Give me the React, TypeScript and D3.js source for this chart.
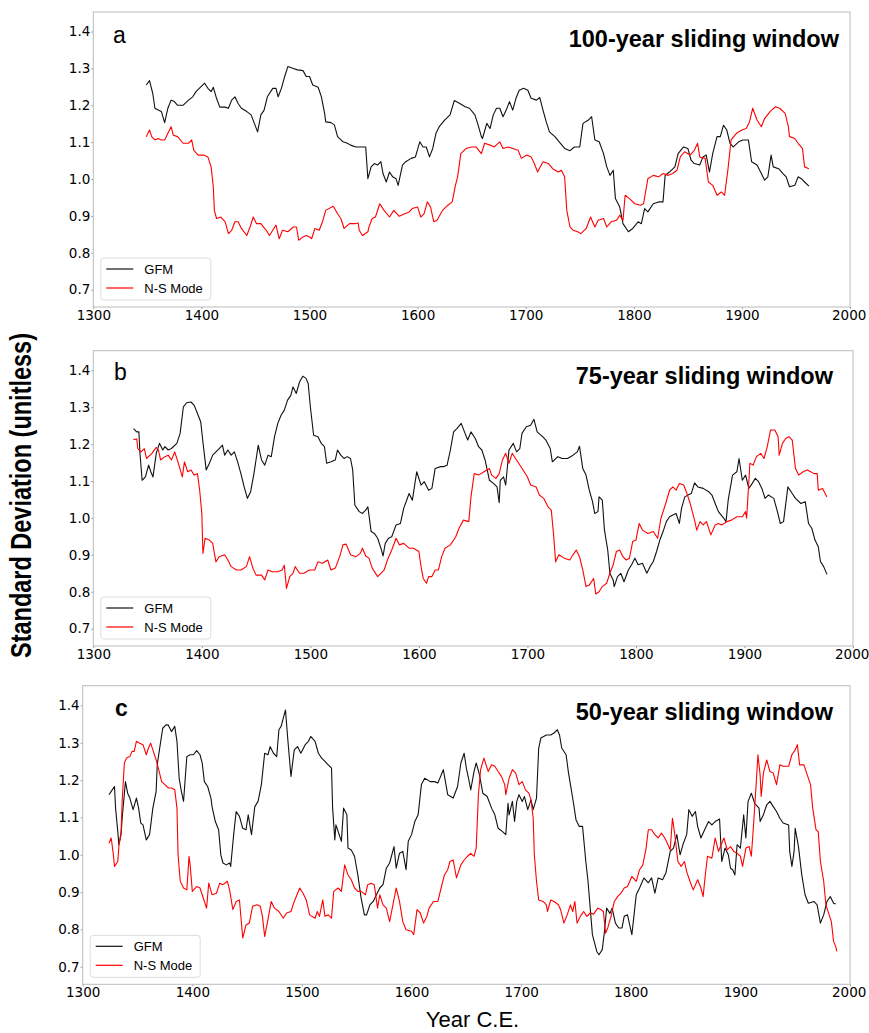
import React, { useEffect, useRef } from 'react';
import * as d3 from 'd3';

// [year, standard deviation]
const gfm100: [number, number][] = [[1349,1.255],[1352,1.267],[1355,1.232],[1357,1.192],[1360,1.187],[1363,1.183],[1366,1.153],[1369,1.192],[1372,1.214],[1375,1.21],[1378,1.2],[1383,1.2],[1388,1.214],[1392,1.223],[1395,1.237],[1398,1.246],[1403,1.26],[1406,1.246],[1409,1.237],[1411,1.249],[1414,1.219],[1417,1.195],[1422,1.195],[1425,1.192],[1428,1.214],[1431,1.223],[1434,1.205],[1437,1.192],[1442,1.183],[1446,1.174],[1449,1.151],[1452,1.128],[1455,1.174],[1458,1.187],[1461,1.223],[1466,1.246],[1469,1.246],[1471,1.223],[1474,1.246],[1477,1.278],[1480,1.305],[1485,1.3],[1489,1.296],[1494,1.294],[1497,1.278],[1500,1.278],[1503,1.255],[1508,1.249],[1511,1.223],[1514,1.178],[1515,1.155],[1520,1.153],[1523,1.147],[1526,1.115],[1531,1.101],[1535,1.097],[1538,1.092],[1543,1.087],[1549,1.087],[1552,1.087],[1554,1.001],[1557,1.033],[1560,1.042],[1563,1.038],[1566,1.047],[1568,1.015],[1571,0.992],[1574,1.019],[1577,1.006],[1580,1.001],[1582,0.983],[1586,1.038],[1589,1.047],[1594,1.056],[1598,1.06],[1602,1.101],[1605,1.087],[1608,1.087],[1611,1.06],[1614,1.083],[1617,1.124],[1620,1.142],[1625,1.16],[1630,1.174],[1634,1.213],[1639,1.205],[1644,1.196],[1648,1.192],[1653,1.174],[1656,1.146],[1659,1.115],[1660,1.11],[1664,1.151],[1667,1.137],[1670,1.174],[1673,1.192],[1676,1.192],[1679,1.169],[1682,1.187],[1685,1.21],[1688,1.187],[1691,1.219],[1694,1.241],[1698,1.246],[1702,1.241],[1705,1.219],[1710,1.214],[1713,1.221],[1716,1.187],[1719,1.155],[1722,1.128],[1727,1.115],[1731,1.101],[1736,1.083],[1741,1.077],[1745,1.087],[1750,1.087],[1753,1.151],[1758,1.16],[1761,1.169],[1764,1.106],[1768,1.101],[1772,1.069],[1775,1.033],[1778,1.01],[1781,1.024],[1783,0.947],[1787,0.924],[1790,0.879],[1795,0.857],[1799,0.866],[1804,0.884],[1807,0.879],[1810,0.92],[1813,0.911],[1818,0.933],[1823,0.938],[1827,0.938],[1829,1.01],[1833,1.019],[1838,1.033],[1841,1.069],[1846,1.087],[1850,1.083],[1853,1.051],[1856,1.042],[1861,1.038],[1864,1.06],[1867,1.065],[1870,1.019],[1873,1.069],[1877,1.115],[1880,1.115],[1883,1.146],[1886,1.133],[1889,1.097],[1892,1.087],[1897,1.101],[1901,1.106],[1906,1.106],[1909,1.047],[1914,1.038],[1918,1.015],[1921,0.997],[1924,1.006],[1927,1.065],[1929,1.033],[1934,1.028],[1938,1.015],[1941,1.006],[1944,0.979],[1949,0.983],[1952,1.006],[1955,1.001],[1958,0.992],[1962,0.981]];

const ns100: [number, number][] = [[1349,1.115],[1352,1.133],[1354,1.115],[1357,1.106],[1360,1.11],[1363,1.106],[1366,1.106],[1369,1.124],[1372,1.142],[1374,1.119],[1378,1.115],[1383,1.097],[1388,1.097],[1391,1.106],[1393,1.078],[1397,1.065],[1402,1.065],[1406,1.06],[1409,1.033],[1411,0.979],[1412,0.915],[1414,0.893],[1418,0.897],[1422,0.884],[1425,0.852],[1428,0.861],[1431,0.884],[1434,0.884],[1437,0.866],[1442,0.847],[1445,0.87],[1448,0.897],[1451,0.879],[1455,0.879],[1460,0.861],[1463,0.847],[1466,0.861],[1469,0.875],[1472,0.838],[1475,0.861],[1480,0.857],[1485,0.87],[1488,0.87],[1490,0.834],[1494,0.843],[1497,0.847],[1500,0.843],[1502,0.838],[1505,0.866],[1509,0.861],[1512,0.884],[1515,0.915],[1522,0.926],[1526,0.906],[1529,0.893],[1532,0.866],[1537,0.879],[1542,0.879],[1545,0.881],[1546,0.861],[1549,0.847],[1554,0.857],[1555,0.87],[1558,0.893],[1561,0.897],[1565,0.933],[1569,0.915],[1574,0.897],[1578,0.915],[1583,0.899],[1588,0.906],[1592,0.91],[1595,0.92],[1600,0.924],[1603,0.897],[1606,0.906],[1609,0.938],[1612,0.924],[1615,0.884],[1618,0.888],[1623,0.915],[1628,0.929],[1632,0.938],[1635,0.983],[1637,1.006],[1640,1.069],[1645,1.083],[1650,1.087],[1654,1.087],[1659,1.069],[1662,1.097],[1667,1.092],[1671,1.087],[1676,1.101],[1679,1.083],[1684,1.087],[1688,1.083],[1693,1.078],[1696,1.056],[1701,1.065],[1705,1.06],[1708,1.042],[1711,1.019],[1716,1.047],[1721,1.042],[1725,1.028],[1730,1.019],[1733,1.024],[1736,1.006],[1738,0.915],[1741,0.87],[1744,0.861],[1748,0.857],[1751,0.852],[1756,0.866],[1760,0.897],[1764,0.87],[1767,0.888],[1772,0.893],[1775,0.87],[1779,0.884],[1784,0.888],[1787,0.902],[1790,0.888],[1792,0.956],[1796,0.947],[1801,0.933],[1806,0.929],[1809,0.933],[1813,1.001],[1818,1.01],[1823,1.006],[1827,1.015],[1832,1.01],[1836,1.015],[1840,1.024],[1843,1.06],[1847,1.074],[1852,1.065],[1856,1.078],[1859,1.097],[1861,1.06],[1866,1.056],[1869,0.992],[1873,0.983],[1877,0.956],[1881,0.965],[1884,0.956],[1887,1.024],[1890,1.106],[1895,1.124],[1900,1.133],[1904,1.137],[1907,1.155],[1910,1.192],[1914,1.16],[1918,1.142],[1921,1.164],[1926,1.183],[1931,1.196],[1935,1.192],[1940,1.178],[1943,1.142],[1944,1.115],[1949,1.11],[1952,1.097],[1956,1.083],[1958,1.033],[1962,1.028]];

const gfm75: [number, number][] = [[1337,1.242],[1340,1.233],[1342,1.233],[1343,1.175],[1345,1.102],[1348,1.111],[1351,1.143],[1353,1.125],[1355,1.111],[1358,1.175],[1361,1.202],[1364,1.184],[1366,1.193],[1369,1.184],[1372,1.188],[1377,1.202],[1380,1.229],[1383,1.301],[1386,1.312],[1390,1.314],[1393,1.305],[1396,1.283],[1399,1.26],[1401,1.206],[1404,1.13],[1407,1.148],[1410,1.17],[1413,1.179],[1416,1.188],[1419,1.197],[1421,1.17],[1424,1.184],[1427,1.17],[1430,1.179],[1433,1.152],[1436,1.12],[1439,1.084],[1442,1.053],[1445,1.071],[1448,1.12],[1452,1.197],[1455,1.157],[1458,1.143],[1461,1.17],[1464,1.166],[1467,1.22],[1470,1.256],[1473,1.278],[1476,1.292],[1479,1.319],[1482,1.332],[1484,1.355],[1487,1.337],[1490,1.368],[1493,1.384],[1496,1.378],[1498,1.364],[1500,1.301],[1503,1.224],[1507,1.22],[1510,1.202],[1513,1.193],[1515,1.148],[1519,1.152],[1523,1.157],[1525,1.184],[1528,1.17],[1531,1.161],[1534,1.166],[1537,1.161],[1539,1.13],[1541,1.035],[1545,1.017],[1548,1.012],[1551,1.021],[1553,1.03],[1556,0.963],[1559,0.958],[1562,0.945],[1565,0.918],[1567,0.897],[1569,0.931],[1572,0.945],[1575,0.949],[1579,0.981],[1583,0.985],[1586,1.026],[1591,1.066],[1594,1.048],[1598,1.125],[1602,1.089],[1605,1.098],[1609,1.075],[1612,1.08],[1615,1.134],[1620,1.139],[1623,1.139],[1626,1.143],[1629,1.184],[1632,1.233],[1635,1.242],[1639,1.256],[1642,1.233],[1645,1.211],[1648,1.233],[1652,1.215],[1655,1.193],[1658,1.184],[1661,1.157],[1665,1.102],[1669,1.093],[1672,1.084],[1674,1.041],[1675,1.102],[1678,1.111],[1680,1.089],[1683,1.184],[1687,1.202],[1690,1.179],[1693,1.188],[1695,1.229],[1699,1.247],[1703,1.251],[1706,1.267],[1709,1.233],[1714,1.22],[1717,1.211],[1721,1.188],[1723,1.152],[1728,1.166],[1732,1.161],[1737,1.161],[1742,1.17],[1746,1.179],[1748,1.194],[1751,1.134],[1754,1.116],[1757,1.075],[1760,1.044],[1762,1.012],[1765,1.017],[1766,1.057],[1769,1.048],[1771,0.967],[1774,0.913],[1776,0.85],[1779,0.832],[1780,0.814],[1783,0.841],[1786,0.85],[1789,0.827],[1793,0.859],[1796,0.873],[1799,0.891],[1802,0.873],[1806,0.877],[1810,0.85],[1813,0.868],[1816,0.882],[1819,0.909],[1822,0.94],[1825,0.963],[1828,0.99],[1831,1.003],[1834,1.008],[1837,1.012],[1840,0.985],[1842,1.026],[1845,1.057],[1848,1.062],[1851,1.066],[1854,1.095],[1857,1.084],[1862,1.08],[1867,1.071],[1870,1.062],[1873,1.039],[1876,1.017],[1881,0.999],[1883,0.99],[1885,1.048],[1889,1.116],[1893,1.125],[1895,1.161],[1898,1.102],[1901,1.116],[1904,1.08],[1907,1.093],[1910,1.107],[1913,1.098],[1916,1.08],[1919,1.053],[1922,1.062],[1927,1.053],[1930,1.021],[1933,0.985],[1936,0.99],[1940,1.084],[1944,1.066],[1947,1.053],[1952,1.039],[1956,1.044],[1959,0.985],[1962,0.972],[1965,0.94],[1968,0.922],[1970,0.882],[1973,0.868],[1976,0.847]];

const ns75: [number, number][] = [[1337,1.212],[1340,1.214],[1341,1.188],[1344,1.179],[1347,1.188],[1349,1.161],[1354,1.175],[1358,1.191],[1360,1.184],[1362,1.157],[1366,1.166],[1369,1.17],[1372,1.157],[1375,1.179],[1378,1.152],[1382,1.111],[1384,1.152],[1387,1.125],[1390,1.13],[1393,1.116],[1396,1.12],[1398,1.075],[1400,1.012],[1401,0.904],[1403,0.945],[1407,0.94],[1410,0.931],[1413,0.881],[1416,0.895],[1421,0.9],[1424,0.886],[1427,0.868],[1432,0.859],[1436,0.859],[1441,0.868],[1444,0.895],[1447,0.864],[1450,0.845],[1455,0.845],[1458,0.832],[1461,0.859],[1465,0.854],[1470,0.854],[1474,0.859],[1476,0.872],[1478,0.809],[1481,0.841],[1484,0.85],[1486,0.868],[1490,0.85],[1494,0.85],[1499,0.859],[1504,0.859],[1507,0.881],[1511,0.877],[1516,0.886],[1519,0.859],[1523,0.864],[1527,0.895],[1530,0.927],[1533,0.929],[1537,0.9],[1542,0.895],[1546,0.904],[1548,0.918],[1551,0.897],[1554,0.891],[1557,0.864],[1562,0.841],[1565,0.85],[1568,0.859],[1571,0.886],[1575,0.913],[1579,0.945],[1582,0.927],[1586,0.931],[1591,0.918],[1595,0.918],[1600,0.909],[1602,0.868],[1604,0.836],[1607,0.823],[1609,0.841],[1612,0.841],[1615,0.859],[1618,0.859],[1621,0.895],[1624,0.918],[1629,0.927],[1634,0.949],[1637,0.972],[1641,0.994],[1646,0.99],[1648,1.057],[1651,1.12],[1655,1.116],[1660,1.125],[1665,1.134],[1667,1.116],[1671,1.107],[1674,1.12],[1677,1.157],[1680,1.175],[1683,1.148],[1686,1.175],[1689,1.161],[1692,1.148],[1697,1.125],[1700,1.111],[1703,1.089],[1708,1.084],[1711,1.062],[1715,1.053],[1719,1.03],[1722,1.021],[1724,0.958],[1726,0.881],[1729,0.9],[1734,0.891],[1739,0.886],[1742,0.9],[1745,0.913],[1748,0.895],[1751,0.859],[1754,0.814],[1757,0.818],[1761,0.836],[1763,0.794],[1766,0.8],[1769,0.814],[1773,0.823],[1776,0.85],[1779,0.873],[1782,0.909],[1785,0.913],[1788,0.895],[1791,0.886],[1794,0.891],[1797,0.936],[1800,0.94],[1803,0.985],[1806,0.967],[1811,0.958],[1816,0.963],[1820,0.945],[1823,0.999],[1827,1.035],[1831,1.075],[1834,1.084],[1837,1.075],[1840,1.093],[1844,1.089],[1847,1.066],[1850,1.039],[1854,0.994],[1856,0.967],[1859,0.99],[1862,0.981],[1865,0.99],[1869,0.954],[1873,0.981],[1876,0.985],[1879,0.981],[1884,0.99],[1888,0.994],[1893,1.003],[1898,1.003],[1901,1.017],[1902,0.999],[1905,1.148],[1908,1.143],[1911,1.166],[1915,1.175],[1918,1.161],[1921,1.193],[1924,1.238],[1928,1.238],[1931,1.22],[1932,1.17],[1935,1.202],[1938,1.215],[1941,1.22],[1944,1.211],[1947,1.134],[1950,1.116],[1954,1.125],[1958,1.13],[1961,1.125],[1964,1.12],[1967,1.12],[1968,1.075],[1972,1.08],[1975,1.062],[1976,1.057]];

const gfm50: [number, number][] = [[1324,1.161],[1326,1.17],[1329,1.183],[1330,1.125],[1332,1.062],[1333,1.027],[1335,1.054],[1336,1.098],[1339,1.196],[1341,1.165],[1343,1.152],[1346,1.121],[1349,1.152],[1351,1.125],[1353,1.085],[1355,1.08],[1358,1.04],[1361,1.054],[1364,1.125],[1367,1.17],[1368,1.241],[1370,1.281],[1373,1.339],[1376,1.348],[1378,1.348],[1381,1.33],[1384,1.344],[1386,1.304],[1388,1.205],[1390,1.17],[1392,1.143],[1395,1.263],[1398,1.268],[1401,1.268],[1404,1.279],[1407,1.268],[1409,1.246],[1411,1.196],[1414,1.183],[1417,1.152],[1418,1.129],[1421,1.089],[1424,1.067],[1426,1.0],[1428,0.978],[1431,0.973],[1434,0.978],[1435,0.969],[1438,1.062],[1440,1.116],[1443,1.103],[1446,1.071],[1449,1.067],[1451,1.107],[1454,1.054],[1457,1.129],[1460,1.143],[1463,1.188],[1466,1.272],[1469,1.268],[1471,1.29],[1474,1.272],[1477,1.263],[1479,1.335],[1481,1.344],[1483,1.366],[1485,1.388],[1487,1.313],[1490,1.21],[1493,1.281],[1496,1.29],[1499,1.272],[1503,1.295],[1506,1.304],[1508,1.317],[1512,1.304],[1515,1.272],[1518,1.259],[1521,1.25],[1524,1.241],[1527,1.232],[1528,1.125],[1530,1.04],[1531,1.08],[1534,1.054],[1536,1.036],[1538,1.125],[1541,1.107],[1542,1.018],[1545,1.013],[1548,0.996],[1551,0.946],[1554,0.884],[1557,0.839],[1559,0.839],[1562,0.866],[1565,0.875],[1568,0.893],[1571,0.911],[1574,0.92],[1577,0.964],[1580,0.978],[1584,1.022],[1586,0.964],[1589,1.004],[1592,1.009],[1595,0.96],[1597,1.036],[1600,1.054],[1603,1.089],[1606,1.107],[1609,1.188],[1612,1.205],[1617,1.196],[1621,1.196],[1624,1.192],[1629,1.228],[1633,1.161],[1638,1.152],[1642,1.183],[1645,1.246],[1648,1.272],[1650,1.232],[1652,1.205],[1654,1.174],[1657,1.223],[1659,1.246],[1662,1.214],[1665,1.165],[1669,1.156],[1673,1.125],[1676,1.107],[1679,1.071],[1683,1.062],[1686,1.054],[1688,1.138],[1689,1.107],[1692,1.143],[1694,1.089],[1696,1.143],[1698,1.161],[1701,1.143],[1703,1.156],[1706,1.121],[1709,1.147],[1711,1.121],[1714,1.152],[1716,1.286],[1718,1.313],[1723,1.321],[1727,1.321],[1730,1.326],[1733,1.335],[1735,1.321],[1737,1.286],[1741,1.268],[1743,1.223],[1746,1.17],[1748,1.134],[1750,1.094],[1753,1.076],[1756,1.076],[1759,0.982],[1761,0.929],[1763,0.857],[1765,0.786],[1769,0.741],[1771,0.732],[1774,0.746],[1776,0.795],[1778,0.857],[1781,0.843],[1783,0.857],[1786,0.817],[1789,0.804],[1792,0.804],[1794,0.835],[1797,0.839],[1801,0.786],[1803,0.839],[1805,0.893],[1808,0.911],[1812,0.938],[1816,0.925],[1819,0.938],[1822,0.897],[1825,0.938],[1829,0.933],[1832,0.951],[1836,1.009],[1839,1.018],[1842,1.054],[1845,1.0],[1848,1.031],[1851,1.054],[1853,1.121],[1856,1.103],[1859,1.116],[1861,1.076],[1864,1.045],[1868,1.071],[1871,1.089],[1874,1.08],[1877,1.089],[1881,1.096],[1883,0.982],[1886,1.018],[1889,1.0],[1891,0.964],[1893,0.96],[1895,0.946],[1897,1.027],[1900,1.018],[1903,1.107],[1905,1.045],[1907,1.143],[1910,1.165],[1913,1.138],[1917,1.125],[1918,1.089],[1921,1.107],[1924,1.134],[1927,1.143],[1930,1.129],[1933,1.116],[1936,1.098],[1939,1.085],[1944,1.08],[1945,1.009],[1947,0.969],[1949,1.009],[1950,1.071],[1953,1.022],[1956,0.946],[1959,0.893],[1962,0.87],[1967,0.875],[1970,0.866],[1973,0.817],[1976,0.839],[1979,0.875],[1982,0.888],[1985,0.87],[1987,0.868]];

const ns50: [number, number][] = [[1324,1.031],[1326,1.045],[1328,1.0],[1329,0.969],[1332,0.982],[1333,1.022],[1335,1.062],[1336,1.143],[1338,1.246],[1340,1.259],[1343,1.263],[1345,1.277],[1347,1.277],[1349,1.304],[1352,1.299],[1355,1.295],[1358,1.268],[1360,1.286],[1362,1.299],[1364,1.281],[1367,1.254],[1369,1.232],[1372,1.196],[1375,1.188],[1378,1.179],[1381,1.179],[1384,1.174],[1386,1.125],[1387,1.0],[1389,0.929],[1392,0.911],[1395,0.906],[1397,0.996],[1398,0.973],[1400,0.902],[1404,0.915],[1407,0.911],[1409,0.893],[1413,0.857],[1415,0.924],[1418,0.893],[1422,0.897],[1425,0.924],[1428,0.92],[1432,0.929],[1434,0.906],[1437,0.853],[1440,0.875],[1443,0.879],[1446,0.777],[1449,0.812],[1452,0.817],[1455,0.862],[1459,0.866],[1462,0.862],[1464,0.835],[1466,0.781],[1469,0.826],[1472,0.875],[1475,0.857],[1479,0.848],[1483,0.83],[1486,0.844],[1490,0.848],[1493,0.875],[1498,0.911],[1501,0.897],[1504,0.879],[1507,0.839],[1512,0.83],[1514,0.848],[1516,0.835],[1519,0.879],[1521,0.835],[1524,0.839],[1527,0.83],[1529,0.902],[1533,0.911],[1536,0.902],[1539,0.973],[1542,0.946],[1545,0.933],[1548,0.911],[1551,0.902],[1554,0.902],[1558,0.893],[1560,0.92],[1563,0.924],[1566,0.92],[1569,0.857],[1571,0.893],[1574,0.866],[1577,0.857],[1580,0.821],[1583,0.866],[1586,0.911],[1589,0.875],[1592,0.821],[1595,0.799],[1600,0.795],[1602,0.786],[1605,0.853],[1608,0.844],[1611,0.817],[1614,0.835],[1616,0.857],[1620,0.875],[1624,0.875],[1627,0.911],[1630,0.946],[1633,0.96],[1635,0.982],[1638,0.986],[1641,0.938],[1645,0.973],[1648,0.986],[1651,0.996],[1654,1.004],[1657,0.996],[1659,1.018],[1661,1.161],[1663,1.228],[1666,1.259],[1670,1.223],[1673,1.241],[1676,1.237],[1679,1.223],[1682,1.21],[1685,1.188],[1686,1.161],[1689,1.205],[1692,1.228],[1695,1.219],[1698,1.188],[1701,1.196],[1704,1.174],[1707,1.165],[1709,1.147],[1711,1.098],[1712,1.0],[1714,0.929],[1716,0.879],[1720,0.875],[1723,0.866],[1724,0.848],[1727,0.879],[1730,0.875],[1734,0.866],[1736,0.853],[1739,0.817],[1742,0.839],[1745,0.866],[1747,0.848],[1749,0.875],[1751,0.817],[1754,0.835],[1757,0.848],[1760,0.835],[1763,0.844],[1766,0.841],[1770,0.857],[1773,0.853],[1775,0.848],[1777,0.79],[1779,0.804],[1782,0.835],[1785,0.875],[1788,0.888],[1791,0.897],[1794,0.911],[1797,0.915],[1801,0.942],[1805,0.929],[1808,0.96],[1811,0.973],[1814,1.018],[1816,1.067],[1819,1.067],[1822,1.054],[1825,1.045],[1828,1.058],[1831,1.045],[1834,1.027],[1836,1.013],[1838,1.098],[1840,1.058],[1843,0.982],[1846,0.969],[1849,0.982],[1851,0.955],[1854,0.929],[1857,0.906],[1861,0.933],[1864,0.911],[1866,0.888],[1868,0.946],[1870,0.996],[1874,0.991],[1877,1.045],[1880,1.009],[1883,1.031],[1885,1.045],[1888,1.013],[1891,1.022],[1894,1.009],[1897,1.004],[1900,0.996],[1902,0.969],[1905,1.018],[1908,1.022],[1910,0.996],[1912,1.08],[1914,1.17],[1916,1.268],[1918,1.214],[1919,1.156],[1921,1.219],[1924,1.254],[1927,1.223],[1930,1.219],[1933,1.188],[1936,1.241],[1939,1.237],[1944,1.237],[1947,1.268],[1950,1.281],[1952,1.295],[1954,1.241],[1958,1.241],[1961,1.214],[1964,1.188],[1966,1.125],[1969,1.067],[1971,1.062],[1973,0.982],[1976,0.929],[1978,0.866],[1981,0.839],[1983,0.821],[1985,0.768],[1987,0.754],[1988,0.741]];

const xTicks = [1300, 1400, 1500, 1600, 1700, 1800, 1900, 2000];
const yTicks = [0.7, 0.8, 0.9, 1.0, 1.1, 1.2, 1.3, 1.4];
const seriesNames = ['GFM', 'N-S Mode'];
const seriesColors = ['#111', '#ff0000'];

const WIDTH = 869;
const HEIGHT = 1033;
const SANS = '"Liberation Sans", Arial, sans-serif';

const panels = [
    { letter: 'a', title: '100-year sliding window', gfm: gfm100, ns: ns100,
      left: 93.3, right: 850, top: 12, bottom: 307, titleX: 839, titleY: 46.5, letterY: 42.5, letterX: 113 },
    { letter: 'b', title: '75-year sliding window', gfm: gfm75, ns: ns75,
      left: 93.3, right: 853, top: 350.7, bottom: 646, titleX: 833, titleY: 383.5, letterY: 380, letterX: 114 },
    { letter: 'c', title: '50-year sliding window', gfm: gfm50, ns: ns50,
      left: 82.7, right: 850, top: 685.7, bottom: 984.3, titleX: 833, titleY: 719.5, letterY: 716, letterX: 115 },
];

const App = () => {
    const svgRef = useRef<SVGSVGElement>(null);

    useEffect(() => {
        const svg = d3.select(svgRef.current);
        svg.selectAll('*').remove();

        panels.forEach((p) => {
            const x = d3.scaleLinear().domain([1300, 2000]).range([p.left, p.right]);
            const y = d3.scaleLinear().domain([0.653, 1.453]).range([p.bottom, p.top]);
            const g = svg.append('g');

            const line = d3.line<[number, number]>()
                .x(d => x(d[0]))
                .y(d => y(d[1]));

            // axes
            const xAxis = g.append('g')
                .attr('transform', `translate(0,${p.bottom})`)
                .call(d3.axisBottom(x).tickValues(xTicks).tickFormat(d3.format('d')).tickSize(2).tickPadding(1.5));
            const yAxis = g.append('g')
                .attr('transform', `translate(${p.left},0)`)
                .call(d3.axisLeft(y).tickValues(yTicks).tickFormat(d3.format('.1f')).tickSize(2).tickPadding(1));
            [xAxis, yAxis].forEach(ax => {
                ax.select('.domain').remove();
                ax.selectAll('line').attr('stroke', '#999');
                ax.selectAll('text')
                    .attr('fill', '#000')
                    .style('font-family', '"DejaVu Sans", sans-serif')
                    .style('font-size', '13.5px');
            });
            // the last x label sits against the page edge, as in the source
            xAxis.selectAll('text').filter((d: any) => d === 2000).attr('dx', '-0.1em');

            g.append('rect')
                .attr('x', p.left).attr('y', p.top)
                .attr('width', p.right - p.left).attr('height', p.bottom - p.top)
                .attr('fill', 'none').attr('stroke', '#bbb').attr('stroke-width', 1);

            [p.gfm, p.ns].forEach((data, i) => {
                g.append('path')
                    .datum(data)
                    .attr('fill', 'none')
                    .attr('stroke', seriesColors[i])
                    .attr('stroke-width', 1.1)
                    .attr('stroke-linejoin', 'round')
                    .attr('d', line);
            });

            // legend
            const lg = g.append('g').attr('transform', `translate(${p.left},${p.bottom})`);
            lg.append('rect')
                .attr('x', 7.5).attr('y', -49).attr('width', 110).attr('height', 42)
                .attr('rx', 3).attr('fill', 'white').attr('stroke', '#ddd');
            seriesNames.forEach((name, i) => {
                const ly = -38 + i * 19;
                lg.append('line')
                    .attr('x1', 13).attr('x2', 40).attr('y1', ly).attr('y2', ly)
                    .attr('stroke', seriesColors[i]).attr('stroke-width', 1.2);
                lg.append('text')
                    .attr('x', 51).attr('y', ly + 4.5)
                    .style('font-family', SANS).style('font-size', '13px')
                    .text(name);
            });

            g.append('text')
                .attr('x', p.titleX).attr('y', p.titleY)
                .attr('text-anchor', 'end')
                .style('font-family', SANS).style('font-size', '23.5px').style('font-weight', 'bold')
                .text(p.title);

            g.append('text')
                .attr('x', p.letterX).attr('y', p.letterY)
                .style('font-family', SANS).style('font-size', '23px')
                .style('font-weight', p.letter === 'c' ? 'bold' : 'normal')
                .text(p.letter);
        });

        svg.append('text')
            .attr('transform', 'translate(30.5,495.5) rotate(-90)')
            .attr('text-anchor', 'middle')
            .attr('textLength', 325)
            .attr('lengthAdjust', 'spacingAndGlyphs')
            .style('font-family', SANS).style('font-size', '29px').style('font-weight', 'bold')
            .text('Standard Deviation (unitless)');

        svg.append('text')
            .attr('x', 472.5).attr('y', 1027)
            .attr('text-anchor', 'middle')
            .style('font-family', SANS).style('font-size', '22px')
            .text('Year C.E.');
    }, []);

    return (
        <svg ref={svgRef} width={WIDTH} height={HEIGHT}
             style={{ position: 'absolute', left: 0, top: 0, background: 'white' }} />
    );
};

export default App;
